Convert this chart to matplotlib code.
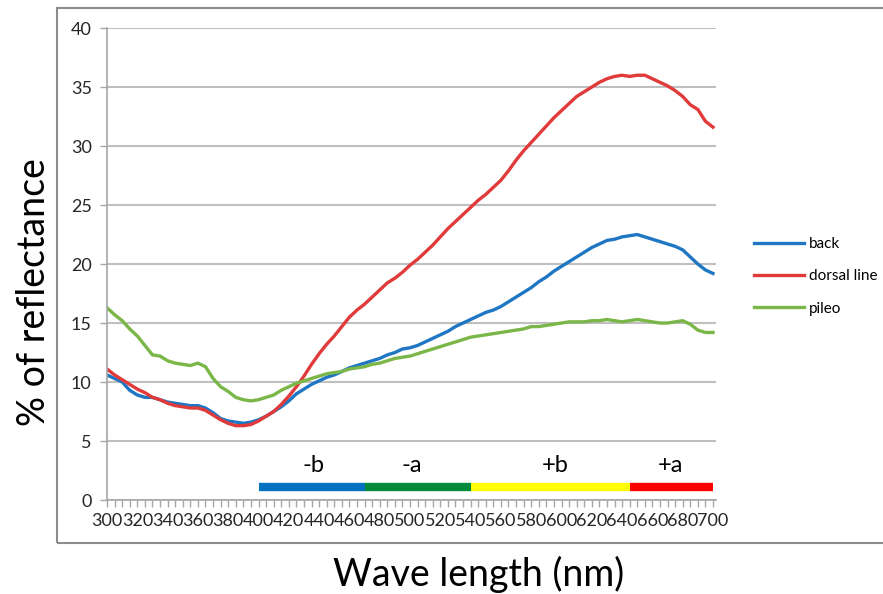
import numpy as np
import matplotlib
matplotlib.use("Agg")
import matplotlib.pyplot as plt
from matplotlib.patches import Rectangle

plt.rcParams['font.family'] = ['Lato', 'DejaVu Sans']

# wavelength axis, one point every 5 nm
wavelength = list(range(300, 705, 5))

back = [10.6, 10.3, 10.0, 9.3, 8.9, 8.7, 8.7, 8.5, 8.3, 8.2,
        8.1, 8.0, 8.0, 7.8, 7.4, 6.9, 6.7, 6.6, 6.5, 6.6,
        6.8, 7.1, 7.5, 7.9, 8.4, 9.0, 9.4, 9.8, 10.1, 10.4,
        10.6, 10.9, 11.2, 11.4, 11.6, 11.8, 12.0, 12.3, 12.5, 12.8,
        12.9, 13.1, 13.4, 13.7, 14.0, 14.3, 14.7, 15.0, 15.3, 15.6,
        15.9, 16.1, 16.4, 16.8, 17.2, 17.6, 18.0, 18.5, 18.9, 19.4,
        19.8, 20.2, 20.6, 21.0, 21.4, 21.7, 22.0, 22.1, 22.3, 22.4,
        22.5, 22.3, 22.1, 21.9, 21.7, 21.5, 21.2, 20.6, 20.0, 19.5,
        19.2]

dorsal_line = [11.1, 10.6, 10.2, 9.8, 9.4, 9.1, 8.7, 8.5, 8.2, 8.0,
               7.9, 7.8, 7.8, 7.6, 7.2, 6.8, 6.5, 6.3, 6.3, 6.4,
               6.7, 7.1, 7.5, 8.1, 8.8, 9.6, 10.5, 11.5, 12.4, 13.2,
               13.9, 14.7, 15.5, 16.1, 16.6, 17.2, 17.8, 18.4, 18.8, 19.3,
               19.9, 20.4, 21.0, 21.6, 22.3, 23.0, 23.6, 24.2, 24.8, 25.4,
               25.9, 26.5, 27.1, 27.9, 28.8, 29.6, 30.3, 31.0, 31.7, 32.4,
               33.0, 33.6, 34.2, 34.6, 35.0, 35.4, 35.7, 35.9, 36.0, 35.9,
               36.0, 36.0, 35.7, 35.4, 35.1, 34.7, 34.2, 33.5, 33.1, 32.1,
               31.6]

pileo = [16.3, 15.7, 15.2, 14.5, 13.9, 13.1, 12.3, 12.2, 11.8, 11.6,
         11.5, 11.4, 11.6, 11.3, 10.3, 9.6, 9.2, 8.7, 8.5, 8.4,
         8.5, 8.7, 8.9, 9.3, 9.6, 9.9, 10.1, 10.3, 10.5, 10.7,
         10.8, 10.9, 11.1, 11.2, 11.3, 11.5, 11.6, 11.8, 12.0, 12.1,
         12.2, 12.4, 12.6, 12.8, 13.0, 13.2, 13.4, 13.6, 13.8, 13.9,
         14.0, 14.1, 14.2, 14.3, 14.4, 14.5, 14.7, 14.7, 14.8, 14.9,
         15.0, 15.1, 15.1, 15.1, 15.2, 15.2, 15.3, 15.2, 15.1, 15.2,
         15.3, 15.2, 15.1, 15.0, 15.0, 15.1, 15.2, 14.9, 14.4, 14.2,
         14.2]

# colour bands drawn under the curves
band_labels = ['-b', '-a', '+b', '+a']
band_edges = [400, 470, 540, 645, 700]
band_colors = ['#0070C0', '#008A3A', '#FFFF00', '#FF0000']
band_label_x = [436, 501, 596, 672]

fig = plt.figure(figsize=(8.83, 5.94), dpi=100)
ax = fig.add_axes([0.1212, 0.1582, 0.6897, 0.7946])

ax.plot(wavelength, back, color='#1F77C4', lw=2.4, label='back')
ax.plot(wavelength, dorsal_line, color='#E03A3A', lw=2.4, label='dorsal line')
ax.plot(wavelength, pileo, color='#7AB648', lw=2.4, label='pileo')

for i in range(len(band_labels)):
    ax.plot([band_edges[i], band_edges[i + 1]], [1.1, 1.1], color=band_colors[i],
            lw=6, solid_capstyle='butt')
    ax.text(band_label_x[i], 2.9, band_labels[i], ha='center', va='center',
            fontsize=17, color='black')

ax.set_xlim(300, 702)
ax.set_ylim(0, 40)
ax.set_yticks(range(0, 45, 5))
ax.set_xticks(range(300, 720, 20))
ax.set_xticks(range(300, 705, 5), minor=True)
ax.tick_params(axis='x', which='both', length=5, color='#A6A6A6', width=1,
               labelsize=13, pad=4, labelcolor='#262626')
ax.tick_params(axis='y', length=5, color='#A6A6A6', width=1,
               labelsize=13, pad=6, labelcolor='#262626')
ax.yaxis.grid(True, color='#BFBFBF', lw=1.5)
ax.set_axisbelow(True)
for s in ['top', 'right']:
    ax.spines[s].set_visible(False)
for s in ['left', 'bottom']:
    ax.spines[s].set_color('#A6A6A6')
    ax.spines[s].set_linewidth(1.2)

leg = ax.legend(loc='center left', bbox_to_anchor=(0.838, 0.535),
                bbox_transform=fig.transFigure, frameon=False, fontsize=11,
                handlelength=3.3, handletextpad=0.3, labelspacing=1.2)

# outer chart frame (extends past the right edge)
fig.patches.append(Rectangle((57 / 883, 1 - 543 / 594), 1.0, (543 - 8) / 594,
                             transform=fig.transFigure, fill=False,
                             edgecolor='#8C8C8C', lw=1.5))

fig.text(34 / 883, 1 - 292 / 594, '% of reflectance', rotation=90,
         ha='center', va='center', fontsize=27)
fig.text(479 / 883, 1 - 574 / 594, 'Wave length (nm)', ha='center',
         va='center', fontsize=27)

fig.savefig('out.png', dpi=100)
